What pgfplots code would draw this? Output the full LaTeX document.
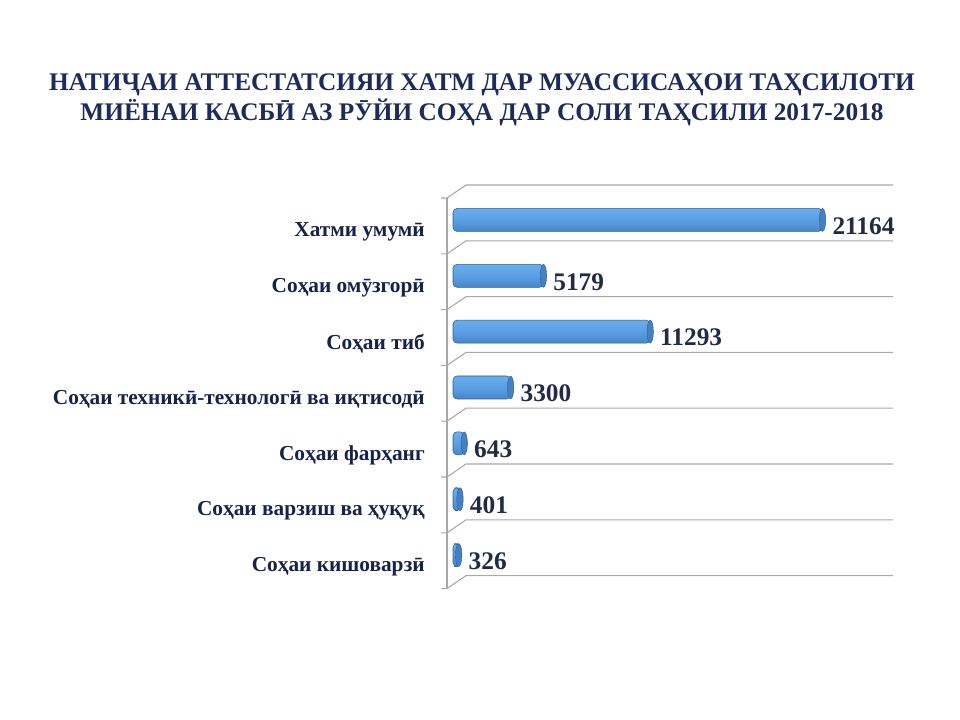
\documentclass[border=0pt]{standalone}
\usepackage{fontspec}
\setmainfont{Liberation Serif}
\usepackage{pgfplots}
\pgfplotsset{compat=1.18}
\definecolor{titlenavy}{HTML}{1C2A5C}
\definecolor{labnavy}{HTML}{16224A}
\definecolor{numnavy}{HTML}{222B44}
\definecolor{gridgray}{HTML}{A8A8A8}
\definecolor{cylDark}{HTML}{2F5D8F}
\definecolor{cylLow}{HTML}{3F7CBF}
\definecolor{cylMid}{HTML}{579BDE}
\definecolor{cylLight}{HTML}{68AEEE}
\definecolor{cylTop}{HTML}{4A88C8}
\definecolor{cylEdge}{HTML}{2E5E94}
\definecolor{cylCap}{HTML}{4580C2}
\pgfdeclareverticalshading{cylinder}{100bp}{
  color(0bp)=(cylDark); color(16bp)=(cylLow); color(45bp)=(cylMid);
  color(74bp)=(cylLight); color(90bp)=(cylMid); color(100bp)=(cylTop)}

% one cylinder per category, so each bar gets its own shading
\newcommand\cylbar[2]{%
  \addplot[xbar, bar shift=0pt, bar width=17.25pt, shading=cylinder,
    draw=cylEdge, line width=0.4pt, rounded corners=3pt]
    coordinates {(#1,#2)};}

\begin{document}
\begin{tikzpicture}
% page = 960x720 px, 1 px = 0.75 pt, origin top left
\useasboundingbox (0,0) rectangle (720pt,-540pt);
\fill[white] (0,0) rectangle (720pt,-540pt);

\begin{scope}[x=0.75pt, y=-0.75pt]
  % title
  \node[font=\fontsize{19}{22}\selectfont\bfseries, text=titlenavy] at (482,85)
    {НАТИҶАИ АТТЕСТАТСИЯИ ХАТМ ДАР МУАССИСАҲОИ ТАҲСИЛОТИ};
  \node[font=\fontsize{19}{22}\selectfont\bfseries, text=titlenavy] at (482,112)
    {МИЁНАИ КАСБӢ АЗ РӮЙИ СОҲА ДАР СОЛИ ТАҲСИЛИ 2017-2018};
  % pseudo 3d walls
  \foreach \k in {0,...,7} {
    \draw[gridgray, line width=0.8] (441,198+55.8*\k) -- (447,198+55.8*\k)
      -- (466,185+55.8*\k) -- (893,185+55.8*\k);
  }
  \draw[gridgray, line width=0.8] (447,198) -- (447,588.6);
\end{scope}

\begin{axis}[
    at={(339.75pt,-144pt)}, anchor=north west,
    scale only axis,
    width=330pt, height=293.25pt,
    xmin=0, xmax=25200,
    ymin=-0.5, ymax=6.5,
    y dir=reverse,
    axis line style={draw=none},
    xtick=\empty,
    ytick={0,...,6},
    yticklabels={Хатми умумӣ, Соҳаи омӯзгорӣ, Соҳаи тиб,
      Соҳаи техникӣ-технологӣ ва иқтисодӣ, Соҳаи фарҳанг,
      Соҳаи варзиш ва ҳуқуқ, Соҳаи кишоварзӣ},
    major tick length=0pt,
    yticklabel style={font=\fontsize{16}{19}\selectfont\bfseries,
      text=labnavy, anchor=east, inner sep=0pt, xshift=-21pt, yshift=-9pt},
    clip=false,
  ]
  \cylbar{21164}{0}
  \cylbar{5179}{1}
  \cylbar{11293}{2}
  \cylbar{3300}{3}
  \cylbar{643}{4}
  \cylbar{401}{5}
  \cylbar{326}{6}
  % elliptic end caps, carrying the value labels
  \addplot[only marks, mark=*, mark size=8.6pt,
    mark options={xscale=0.28, fill=cylCap, draw=cylEdge, line width=0.3pt},
    point meta=x,
    nodes near coords,
    nodes near coords style={font=\fontsize{19}{22}\selectfont\bfseries,
      text=numnavy, anchor=west, xshift=4pt, yshift=-4.5pt,
      /pgf/number format/.cd, fixed, set thousands separator={},
      assume math mode=true}]
    coordinates {(21164,0) (5179,1) (11293,2) (3300,3) (643,4) (401,5) (326,6)};
\end{axis}
\end{tikzpicture}
\end{document}
